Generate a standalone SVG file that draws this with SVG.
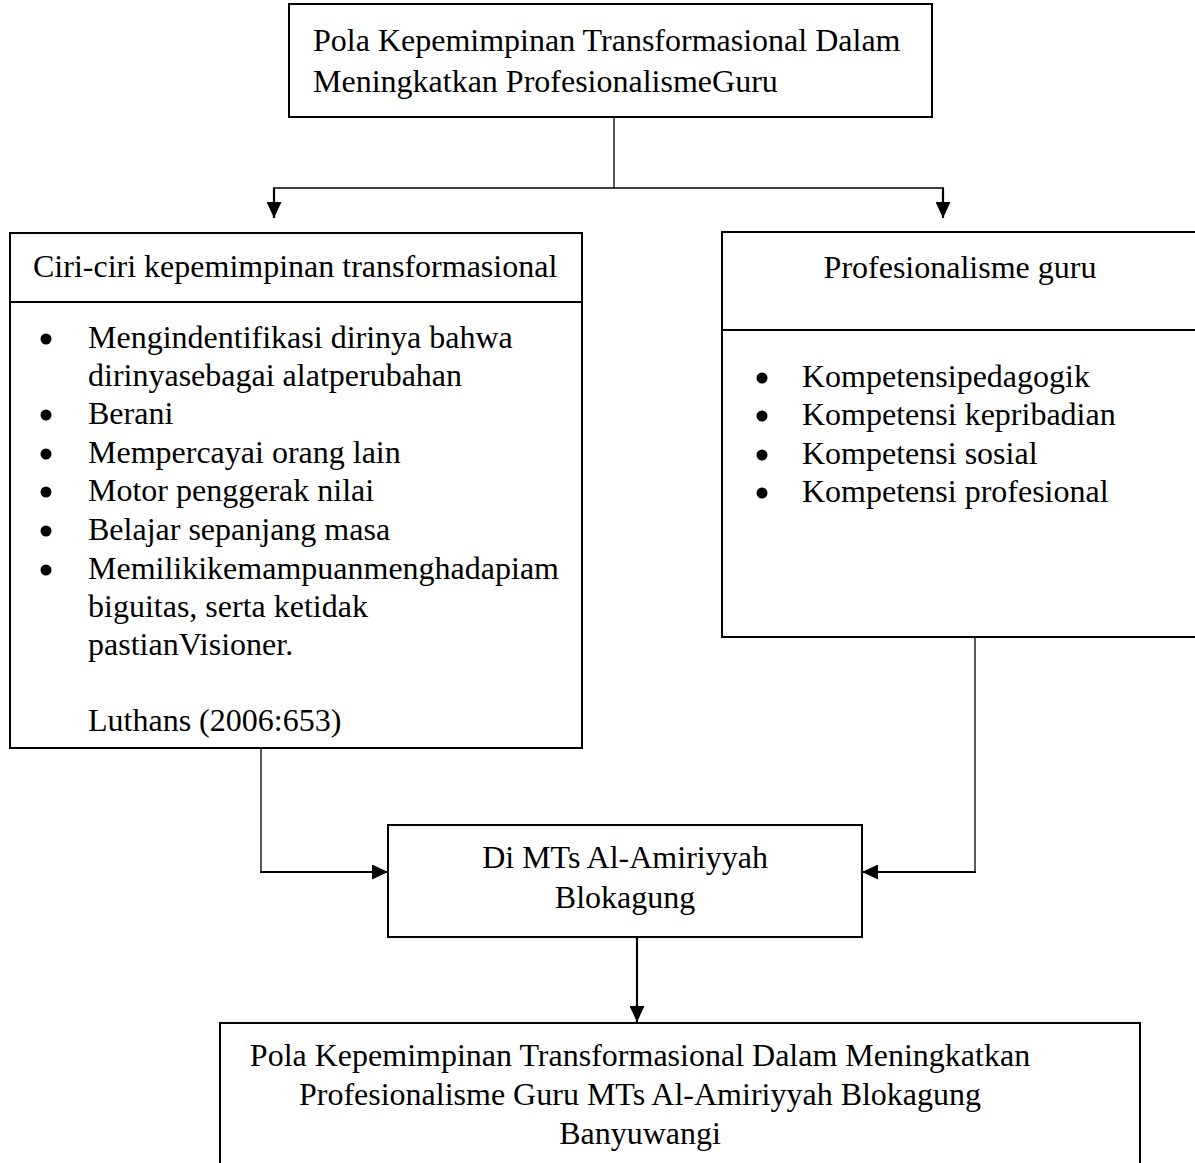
<svg xmlns="http://www.w3.org/2000/svg" width="1195" height="1163" viewBox="0 0 1195 1163">
<style>
.box{fill:#fff;stroke:#000;stroke-width:2}
.t{font-family:"Liberation Serif","Times New Roman",serif;font-size:32px;fill:#000}
.c{text-anchor:middle}
.ln{fill:none;stroke:#000;stroke-width:1.3}
.lnb{fill:none;stroke:#000;stroke-width:2.2}
</style>
<defs>
<marker id="ahb" viewBox="0 0 16 15" refX="16" refY="7.5" markerWidth="16" markerHeight="15" markerUnits="userSpaceOnUse" orient="auto">
<path d="M0,0 L16,7.5 L0,15 Z" fill="#000"/>
</marker>
</defs>
<g id="connectors">
<path class="ln" d="M614,117 V188"/>
<path class="ln" d="M273,188 H944"/>
<path class="lnb" d="M274,188 V218" marker-end="url(#ahb)"/>
<path class="lnb" d="M943,188 V218" marker-end="url(#ahb)"/>
<path class="ln" d="M261,748 V872"/>
<path class="lnb" d="M260,872 H388" marker-end="url(#ahb)"/>
<path class="ln" d="M975,637 V872"/>
<path class="lnb" d="M976,872 H862" marker-end="url(#ahb)"/>
<path class="lnb" d="M637,937 V1022" marker-end="url(#ahb)"/>
</g>
<g id="node-top">
<rect class="box" x="289" y="4" width="643" height="113"/>
<text class="t" x="313" y="51">Pola Kepemimpinan Transformasional Dalam</text>
<text class="t" x="313" y="92">Meningkatkan ProfesionalismeGuru</text>
</g>
<g id="node-ciri">
<rect class="box" x="10" y="233" width="572" height="515"/>
<line class="box" x1="10" y1="302" x2="582" y2="302"/>
<text class="t" x="33" y="277">Ciri-ciri kepemimpinan transformasional</text>
<circle cx="46" cy="339" r="5.5"/>
<text class="t" x="88" y="348">Mengindentifikasi dirinya bahwa</text>
<text class="t" x="88" y="386">dirinyasebagai alatperubahan</text>
<circle cx="46" cy="415" r="5.5"/>
<text class="t" x="88" y="424">Berani</text>
<circle cx="46" cy="454" r="5.5"/>
<text class="t" x="88" y="463">Mempercayai orang lain</text>
<circle cx="46" cy="492" r="5.5"/>
<text class="t" x="88" y="501">Motor penggerak nilai</text>
<circle cx="46" cy="531" r="5.5"/>
<text class="t" x="88" y="540">Belajar sepanjang masa</text>
<circle cx="46" cy="570" r="5.5"/>
<text class="t" x="88" y="579">Memilikikemampuanmenghadapiam</text>
<text class="t" x="88" y="617">biguitas, serta ketidak</text>
<text class="t" x="88" y="655">pastianVisioner.</text>
<text class="t" x="88" y="731">Luthans (2006:653)</text>
</g>
<g id="node-profesionalisme">
<rect class="box" x="722" y="232" width="480" height="405"/>
<line class="box" x1="722" y1="330" x2="1202" y2="330"/>
<text class="t c" x="960" y="278">Profesionalisme guru</text>
<circle cx="762" cy="378" r="5.5"/>
<text class="t" x="802" y="387">Kompetensipedagogik</text>
<circle cx="762" cy="416" r="5.5"/>
<text class="t" x="802" y="425">Kompetensi kepribadian</text>
<circle cx="762" cy="455" r="5.5"/>
<text class="t" x="802" y="464">Kompetensi sosial</text>
<circle cx="762" cy="493" r="5.5"/>
<text class="t" x="802" y="502">Kompetensi profesional</text>
</g>
<g id="node-mts">
<rect class="box" x="388" y="825" width="474" height="112"/>
<text class="t c" x="625" y="868">Di MTs Al-Amiriyyah</text>
<text class="t c" x="625" y="908">Blokagung</text>
</g>
<g id="node-bottom">
<rect class="box" x="220" y="1023" width="920" height="160"/>
<text class="t c" x="640" y="1066">Pola Kepemimpinan Transformasional Dalam Meningkatkan</text>
<text class="t c" x="640" y="1105">Profesionalisme Guru MTs Al-Amiriyyah Blokagung</text>
<text class="t c" x="640" y="1144">Banyuwangi</text>
</g>
</svg>
